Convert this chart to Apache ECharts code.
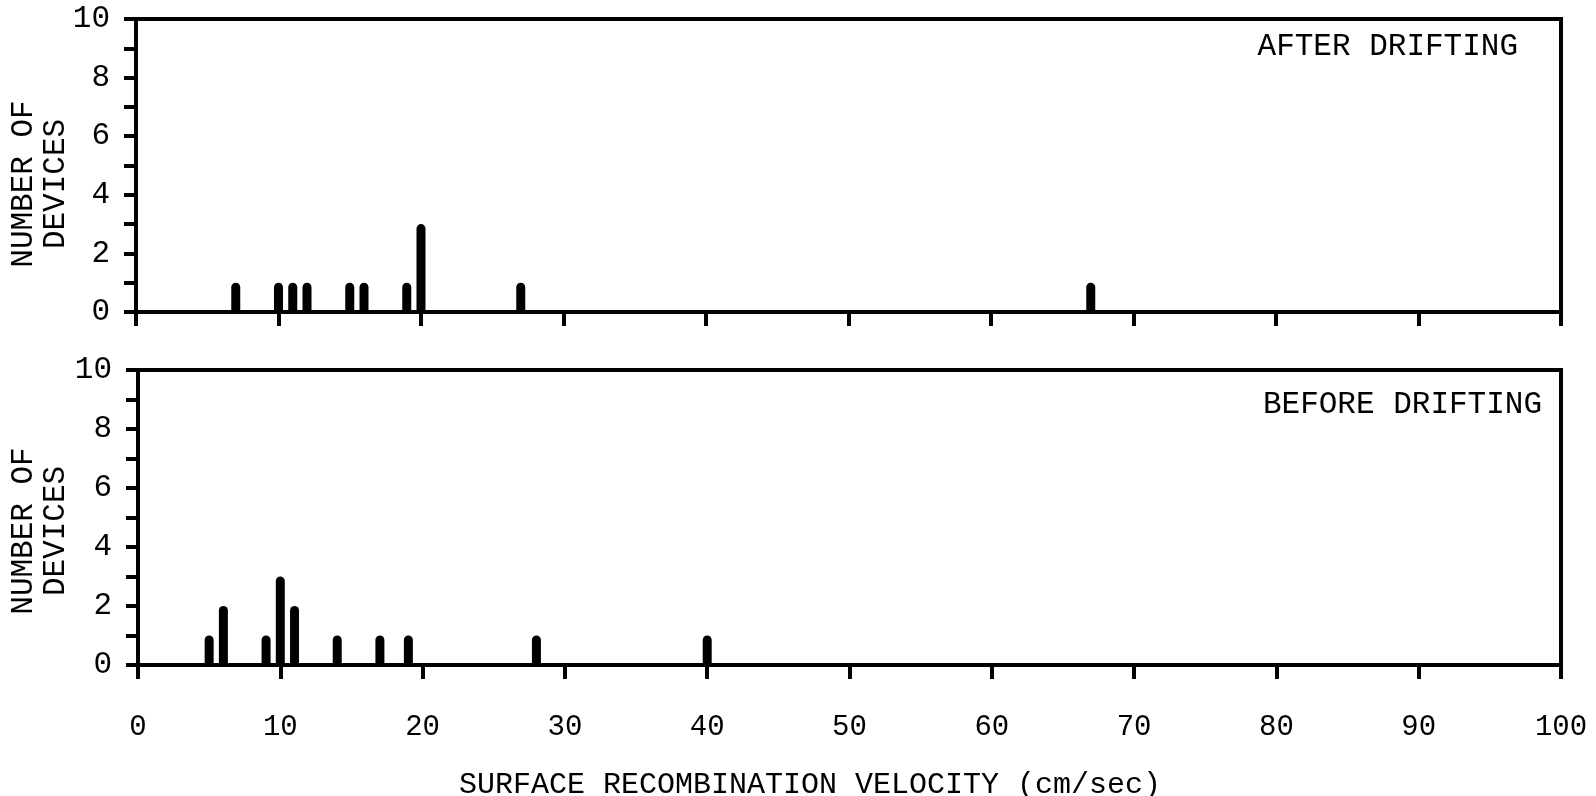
<!DOCTYPE html>
<html>
<head>
<meta charset="utf-8">
<script src="https://cdn.jsdelivr.net/npm/echarts@6/dist/echarts.min.js"></script>
<style>
  html, body { margin: 0; padding: 0; background: #fff; }
  #chart { width: 1596px; height: 796px; }
</style>
</head>
<body>
<div id="chart"></div>
<script>
// velocity (cm/sec) and number of devices
var afterVelocity = [7, 10, 11, 12, 15, 16, 19, 20, 27, 67];
var afterCount = [1, 1, 1, 1, 1, 1, 1, 3, 1, 1];
var beforeVelocity = [5, 6, 9, 10, 11, 14, 17, 19, 28, 40];
var beforeCount = [1, 2, 1, 3, 2, 1, 1, 1, 1, 1];

var font = "Liberation Mono";

function pairs(xs, ys) {
  return xs.map(function (x, i) {
    return [x, ys[i]];
  });
}

(function () {
  var myChart = echarts.init(document.getElementById("chart"));

  function xAxisOf(grid, showLabel) {
    return {
      gridIndex: grid,
      type: "value",
      min: 0,
      max: 100,
      interval: 10,
      axisLine: { lineStyle: { color: "#000", width: 4 } },
      axisTick: { length: 14, lineStyle: { color: "#000", width: 4 } },
      splitLine: { show: false },
      axisLabel: {
        show: showLabel,
        margin: 48,
        color: "#000",
        fontFamily: font,
        fontSize: 29,
      },
    };
  }

  function yAxisOf(grid) {
    return {
      gridIndex: grid,
      type: "value",
      min: 0,
      max: 10,
      interval: 1,
      axisLine: { lineStyle: { color: "#000", width: 4 } },
      axisTick: { length: 12, lineStyle: { color: "#000", width: 4 } },
      splitLine: { show: false },
      axisLabel: {
        margin: 26,
        color: "#000",
        fontFamily: font,
        fontSize: 31,
        // 只显示偶数刻度
        formatter: function (v) {
          return v % 2 === 0 ? String(v) : "";
        },
      },
    };
  }

  function barsOf(idx, data) {
    return {
      type: "bar",
      xAxisIndex: idx,
      yAxisIndex: idx,
      barWidth: 9,
      itemStyle: { color: "#000", borderRadius: [4.5, 4.5, 0, 0] },
      data: data,
    };
  }

  var titleStyle = {
    fill: "#000",
    font: "31px '" + font + "'",
    textAlign: "center",
    textVerticalAlign: "middle",
    lineHeight: 32,
  };

  var option = {
    animation: false,
    backgroundColor: "#fff",
    grid: [
      { left: 136, top: 19, width: 1425, height: 293, show: true, borderColor: "#000", borderWidth: 4 },
      { left: 138, top: 370, width: 1423, height: 295, show: true, borderColor: "#000", borderWidth: 4 },
    ],
    xAxis: [xAxisOf(0, false), xAxisOf(1, true)],
    yAxis: [yAxisOf(0), yAxisOf(1)],
    series: [
      barsOf(0, pairs(afterVelocity, afterCount)),
      barsOf(1, pairs(beforeVelocity, beforeCount)),
    ],
    graphic: [
      {
        type: "text",
        x: 40,
        y: 184,
        rotation: Math.PI / 2,
        style: Object.assign({ text: "NUMBER OF\nDEVICES" }, titleStyle),
      },
      {
        type: "text",
        x: 40,
        y: 531,
        rotation: Math.PI / 2,
        style: Object.assign({ text: "NUMBER OF\nDEVICES" }, titleStyle),
      },
      {
        type: "text",
        x: 1518,
        y: 47,
        style: { text: "AFTER DRIFTING", fill: "#000", font: "31px '" + font + "'", textAlign: "right", textVerticalAlign: "middle" },
      },
      {
        type: "text",
        x: 1542,
        y: 405,
        style: { text: "BEFORE DRIFTING", fill: "#000", font: "31px '" + font + "'", textAlign: "right", textVerticalAlign: "middle" },
      },
      {
        type: "text",
        x: 810,
        y: 785,
        style: { text: "SURFACE RECOMBINATION VELOCITY (cm/sec)", fill: "#000", font: "30px '" + font + "'", textAlign: "center", textVerticalAlign: "middle" },
      },
    ],
  };
  myChart.setOption(option);
  window.addEventListener("resize", function () {
    myChart.resize();
  });
})();
</script>
</body>
</html>
